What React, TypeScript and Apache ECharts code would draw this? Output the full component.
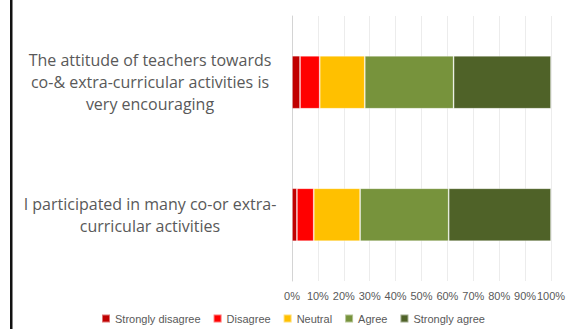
import React, { useEffect, useRef } from "react";
import * as echarts from "echarts";

const categories = [
  "I participated in many co-or extra-\ncurricular activities",
  "The attitude of teachers towards\nco-& extra-curricular activities is\nvery encouraging",
];
const seriesNames = ["Strongly disagree", "Disagree", "Neutral", "Agree", "Strongly agree"];
const stronglyDisagree = [1.9, 3.1];
const disagree = [6.5, 7.6];
const neutral = [17.9, 17.4];
const agree = [34.2, 34.3];
const stronglyAgree = [39.5, 37.6];
const colors = ["#C00000", "#FF0000", "#FFC000", "#77933C", "#4F6228"];

export default function App() {
  const ref = useRef<HTMLDivElement>(null);
  useEffect(() => {
    if (!ref.current) return;
    const chart = echarts.init(ref.current, null, { renderer: "svg" });
    const values = [stronglyDisagree, disagree, neutral, agree, stronglyAgree];
    const font = "'Liberation Sans', Arial, sans-serif";
    chart.setOption({
      animation: false,
      textStyle: { fontFamily: font },
      grid: { left: 292, right: 19, top: 16, bottom: 48, containLabel: false },
      xAxis: {
        type: "value",
        min: 0,
        max: 100,
        interval: 10,
        axisLabel: { formatter: "{value}%", color: "#595959", fontSize: 11, margin: 9, fontFamily: font },
        axisLine: { show: false },
        axisTick: { show: false },
        splitLine: { lineStyle: { color: "#ececec", width: 1 } },
      },
      yAxis: {
        type: "category",
        data: categories,
        axisTick: { show: false },
        axisLine: { show: true, lineStyle: { color: "#d4d4d4", width: 1 } },
        axisLabel: {
          color: "#595959",
          fontSize: 16,
          lineHeight: 22,
          align: "center",
          margin: 142,
          fontFamily: "'Open Sans', sans-serif",
        },
      },
      legend: {
        bottom: 0,
        left: 96,
        itemWidth: 8,
        itemHeight: 8,
        itemGap: 12,
        icon: "rect",
        textStyle: { color: "#595959", fontSize: 11, fontFamily: font },
        data: seriesNames,
      },
      graphic: [
        { type: "rect", left: 10, top: 0, shape: { width: 2.5, height: 329 }, style: { fill: "#111111" } },
      ],
      series: seriesNames.map((name, i) => ({
        name,
        type: "bar",
        stack: "total",
        barCategoryGap: "60%",
        data: values[i],
        itemStyle: { color: colors[i], borderColor: "rgba(255,255,255,0.45)", borderWidth: 0.8 },
      })),
    });
    return () => chart.dispose();
  }, []);
  return (
    <div
      ref={ref}
      style={{ position: "fixed", left: 0, top: 0, width: 570, height: 329, background: "#fff" }}
    />
  );
}
